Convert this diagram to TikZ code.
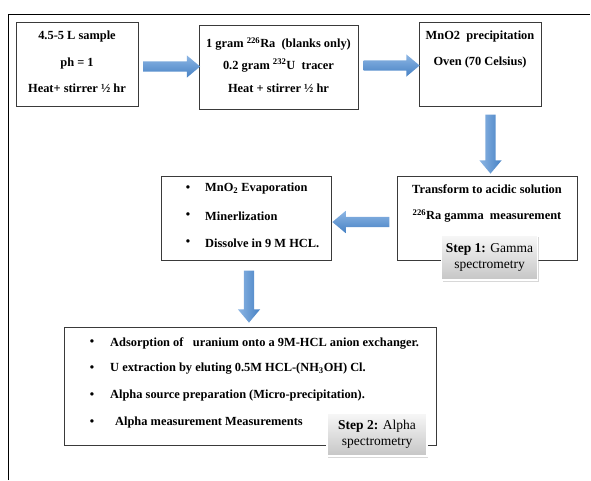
\documentclass[tikz,border=0pt]{standalone}
\usepackage{fontspec}
\setmainfont{Liberation Serif}
\usetikzlibrary{shapes.arrows,shadows,calc}
\definecolor{arrlight}{HTML}{8DB6E4}
\definecolor{arrdark}{HTML}{4681C4}
\definecolor{boxline}{HTML}{3A3A3A}
\begin{document}
\begin{tikzpicture}[x=1pt,y=-1pt,
  box/.style={draw=boxline,line width=0.9pt,fill=white,inner sep=0pt,
    drop shadow={shadow xshift=0.8pt,shadow yshift=-0.8pt,fill=black!35,opacity=0.6}},
  txt/.style={inner sep=0pt,font=\fontsize{12.4}{14}\selectfont\bfseries},
  steptxt/.style={inner sep=0pt,align=center,font=\fontsize{13.5}{16.5}\selectfont},
  stepbox/.style={draw=white,line width=1.2pt,top color=gray!6,bottom color=gray!45,inner sep=0pt,
    drop shadow={shadow xshift=1.2pt,shadow yshift=-1.8pt,fill=black!30,opacity=0.5}},
  harrow/.style={single arrow,inner sep=5pt,single arrow head extend=6pt,
    single arrow tip angle=80,minimum height=#1,draw=none,top color=arrlight,bottom color=arrdark},
  varrow/.style={single arrow,inner sep=5pt,single arrow head extend=6pt,shape border rotate=270,
    single arrow tip angle=80,minimum height=#1,draw=none,left color=arrlight,right color=arrdark},
]
\useasboundingbox (0,0) rectangle (591,480);
% frame
\coordinate (fl) at (8,480);
\coordinate (ftl) at (8,14);
\coordinate (fr) at (590,14);
\draw[line width=0.9pt] (fl) -- (ftl) -- (fr);

% boxes
\node[box,minimum width=122,minimum height=84] (b1) at (77,64) {};
\node[box,minimum width=159,minimum height=84] (b2) at (278.5,67) {};
\node[box,minimum width=122,minimum height=84] (b3) at (480,64) {};
\node[box,minimum width=180,minimum height=84] (b4) at (487,218) {};
\node[box,minimum width=170,minimum height=84] (b5) at (246,218) {};
\node[box,minimum width=372,minimum height=118] (b6) at (250,386) {};

% arrows
\node[harrow=57] (a1) at ($(b1.east)!0.5!(b2.west)+(0,1)$) {};
\node[harrow=56] (a2) at ($(b2.east)!0.5!(b3.west)$) {};
\node[varrow=59] (a3) at ($(b3.south)!0.5!(b4.north)+(7,0)$) {};
\node[harrow=57,shape border rotate=180] (a4) at ($(b4.west)!0.5!(b5.east)+(0,4)$) {};
\node[varrow=52] (a5) at ($(b5.south)!0.5!(b6.north)+(1,0)$) {};

% box 1 text
\node[txt] (t11) at (77,36.5) {4.5-5 L sample};
\node[txt] (t12) at (77,63.5) {ph = 1};
\node[txt] (t13) at (77,88) {Heat+ stirrer ½ hr};
% box 2 text
\node[txt] (t21) at (278.5,44) {1 gram \textsuperscript{226}Ra\ \ (blanks only)};
\node[txt] (t22) at (278.5,65.5) {0.2 gram \textsuperscript{232}U\ \ tracer};
\node[txt] (t23) at (278.5,88) {Heat + stirrer ½ hr};
% box 3 text
\node[txt] (t31) at (480,37) {MnO2\ \ precipitation};
\node[txt] (t32) at (480,63) {Oven (70 Celsius)};
% box 4 text
\node[txt] (t41) at (487,189) {Transform to acidic solution};
\node[txt] (t42) at (487,216) {\textsuperscript{226}Ra gamma\ \ measurement};
% box 5 text
\foreach \yy/\tt [count=\i] in {189/{MnO\textsubscript{2} Evaporation},216/{Minerlization},243/{Dissolve in 9 M HCL.}}{
  \node[txt] (u\i) at (188,\yy) {•};
  \node[txt,anchor=west] (v\i) at (205,\yy) {\tt};
}
% box 6 text
\node[txt] (w1) at (92,343) {•};
\node[txt,anchor=west] (z1) at (110,343) {Adsorption of\ \ \ uranium onto a 9M-HCL anion exchanger.};
\node[txt] (w2) at (92,369) {•};
\node[txt,anchor=west] (z2) at (110,369) {U extraction\ by eluting 0.5M HCL-(NH\textsubscript{3}OH) Cl.};
\node[txt] (w3) at (92,396) {•};
\node[txt,anchor=west] (z3) at (110,396) {Alpha source\ preparation (Micro-precipitation).};
\node[txt] (w4) at (92,423) {•};
\node[txt,anchor=west] (z4) at (115,423) {Alpha measurement\ Measurements};

% step boxes
\node[stepbox,minimum width=96,minimum height=45] (s1) at (489.5,257.5) {};
\node[steptxt] (s1t) at (s1) {\textbf{Step 1:} Gamma\\spectrometry};
\node[stepbox,minimum width=100,minimum height=43] (s2) at (377,434.5) {};
\node[steptxt] (s2t) at (s2) {\textbf{Step 2:} Alpha\\spectrometry};
\end{tikzpicture}
\end{document}
